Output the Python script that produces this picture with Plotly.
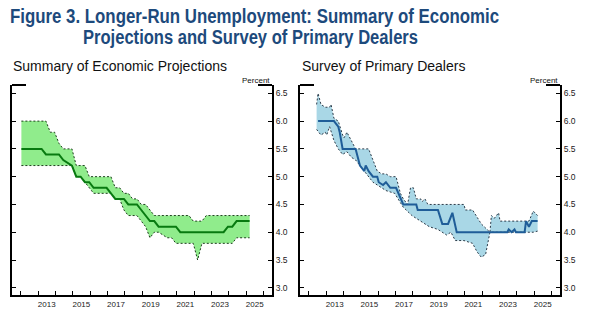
import plotly.graph_objects as go

# ---- Summary of Economic Projections: longer-run unemployment (quarterly SEP rounds)
sep_dates = [
    "2012-01", "2012-04", "2012-06", "2012-09", "2012-12",
    "2013-03", "2013-06", "2013-09", "2013-12",
    "2014-03", "2014-06", "2014-09", "2014-12",
    "2015-03", "2015-06", "2015-09", "2015-12",
    "2016-03", "2016-06", "2016-09", "2016-12",
    "2017-03", "2017-06", "2017-09", "2017-12",
    "2018-03", "2018-06", "2018-09", "2018-12",
    "2019-03", "2019-06", "2019-09", "2019-12",
    "2020-06", "2020-09", "2020-12",
    "2021-03", "2021-06", "2021-09", "2021-12",
    "2022-03", "2022-06", "2022-09", "2022-12",
    "2023-03", "2023-06", "2023-09", "2023-12",
    "2024-03", "2024-06", "2024-09", "2024-12",
    "2025-03",
]
sep_median = [
    5.5, 5.5, 5.5, 5.5, 5.5,
    5.5, 5.4, 5.4, 5.4,
    5.4, 5.3, 5.25, 5.2,
    5.0, 5.0, 4.9, 4.9,
    4.8, 4.8, 4.8, 4.8,
    4.7, 4.6, 4.6, 4.6,
    4.5, 4.5, 4.5, 4.4,
    4.3, 4.2, 4.2, 4.1,
    4.1, 4.1, 4.1,
    4.0, 4.0, 4.0, 4.0,
    4.0, 4.0, 4.0, 4.0,
    4.0, 4.0, 4.0, 4.1,
    4.1, 4.2, 4.2, 4.2,
    4.2,
]
sep_upper = [
    6.0, 6.0, 6.0, 6.0, 6.0,
    6.0, 6.0, 5.8, 5.8,
    5.6, 5.5, 5.5, 5.5,
    5.2, 5.2, 5.2, 5.0,
    5.0, 5.0, 5.0, 5.0,
    5.0, 4.8, 4.8, 4.7,
    4.7, 4.6, 4.6, 4.5,
    4.5, 4.4, 4.3, 4.3,
    4.3, 4.3, 4.3,
    4.3, 4.3, 4.3, 4.2,
    4.2, 4.2, 4.3, 4.3,
    4.3, 4.3, 4.3, 4.3,
    4.3, 4.3, 4.3, 4.3,
    4.3,
]
sep_lower = [
    5.2, 5.2, 5.2, 5.2, 5.2,
    5.2, 5.2, 5.2, 5.2,
    5.2, 5.2, 5.2, 5.2,
    5.0, 5.0, 4.9, 4.8,
    4.7, 4.7, 4.7, 4.7,
    4.7, 4.6, 4.6, 4.4,
    4.3, 4.3, 4.3, 4.2,
    4.1, 3.9, 4.0, 4.0,
    3.9, 3.9, 3.8,
    3.8, 3.8, 3.8, 3.8,
    3.5, 3.8, 3.8, 3.8,
    3.8, 3.8, 3.8, 3.8,
    3.8, 3.9, 3.9, 3.9,
    3.9,
]

# ---- Survey of Primary Dealers: median and range of responses
spd_median_dates = [
    "2012-07", "2013-06", "2013-09", "2013-10", "2013-12", "2014-09", "2014-11",
    "2014-12", "2015-03", "2015-04", "2015-06", "2015-09", "2015-12", "2016-01",
    "2016-04", "2016-06", "2016-09", "2017-01", "2017-06", "2018-03", "2018-04",
    "2019-06", "2019-09", "2020-01", "2020-04", "2020-07", "2023-06", "2023-07",
    "2023-09", "2023-11", "2023-12", "2024-06", "2024-07", "2024-09", "2024-11",
    "2025-03",
]
spd_median = [
    6.0, 6.0, 5.9, 5.8, 5.5, 5.5, 5.3,
    5.2, 5.1, 5.2, 5.1, 5.0, 5.0, 4.9,
    4.85, 4.9, 4.8, 4.8, 4.5, 4.5, 4.4,
    4.4, 4.15, 4.15, 4.35, 4.0, 4.0, 4.05,
    4.0, 4.05, 4.0, 4.0, 4.2, 4.1, 4.2,
    4.2,
]
spd_upper_dates = [
    "2012-06", "2012-07", "2012-09", "2012-12", "2013-03", "2013-04", "2013-06",
    "2013-09", "2013-12", "2014-01", "2014-03", "2014-06", "2014-09", "2015-06",
    "2015-09", "2015-12", "2016-03", "2016-06", "2016-09", "2017-01", "2017-04",
    "2017-06", "2017-09", "2017-11", "2018-01", "2018-03", "2018-06", "2018-07",
    "2018-09", "2018-11", "2020-12", "2021-01", "2021-06", "2021-12", "2022-06",
    "2022-07", "2022-09", "2022-12", "2023-01", "2024-09", "2024-12", "2025-03",
]
spd_upper = [
    6.3, 6.5, 6.3, 6.25, 6.25, 6.3, 6.05,
    6.0, 5.75, 5.7, 5.8, 5.65, 5.5, 5.5,
    5.3, 5.1, 5.05, 5.05, 5.0, 5.0, 4.7,
    4.6, 4.5, 4.8, 4.8, 4.6, 4.6, 4.55,
    4.6, 4.5, 4.5, 4.4, 4.4, 4.15, 4.0,
    4.3, 4.25, 4.35, 4.2, 4.2, 4.38, 4.3,
]
spd_lower_dates = [
    "2012-06", "2012-09", "2012-12", "2013-01", "2013-03", "2013-06", "2013-09",
    "2013-12", "2014-03", "2014-06", "2014-09", "2014-12", "2015-03", "2015-06",
    "2015-09", "2015-12", "2016-06", "2016-12", "2017-06", "2017-12", "2018-06",
    "2018-12", "2019-06", "2019-12", "2020-03", "2020-06", "2020-12", "2021-06",
    "2021-09", "2021-12", "2022-03", "2022-06", "2024-12", "2025-03",
]
spd_lower = [
    5.85, 5.75, 5.8, 5.75, 5.9, 5.65, 5.5,
    5.4, 5.45, 5.35, 5.3, 5.2, 5.1, 5.0,
    4.9, 4.85, 4.75, 4.7, 4.45, 4.3, 4.2,
    4.1, 4.05, 3.95, 4.0, 3.85, 3.85, 3.8,
    3.65, 3.55, 3.6, 4.0, 4.0, 4.02,
]

year_ticks = list(range(2012, 2027))
label_years = [2013, 2015, 2017, 2019, 2021, 2023, 2025]
y_ticks = [3.0, 3.5, 4.0, 4.5, 5.0, 5.5, 6.0, 6.5]

TITLE_BLUE = "#1d4a7c"
BODY_FONT = "Liberation Sans, Arial, sans-serif"
TITLE_FONT = "Liberation Sans, Arial, sans-serif"


def to_year(d):
    y, m = d.split("-")
    return int(y) + (int(m) - 0.5) / 12.0


def add_band_panel(fig, xs_up, up, xs_lo, lo, xs_med, med, fill, median_color,
                   edge_color, xa, ya):
    xu = [to_year(d) for d in xs_up]
    xl = [to_year(d) for d in xs_lo]
    xm = [to_year(d) for d in xs_med]
    fig.add_trace(go.Scatter(
        x=xu + xl[::-1], y=up + lo[::-1], fill="toself", fillcolor=fill,
        mode="lines", line=dict(width=0), hoverinfo="skip",
        showlegend=False, xaxis=xa, yaxis=ya))
    for xx, yy in ((xu, up), (xl, lo)):
        fig.add_trace(go.Scatter(
            x=xx, y=yy, mode="lines",
            line=dict(color=edge_color, width=1, dash="2px,2px"),
            showlegend=False, xaxis=xa, yaxis=ya))
    fig.add_trace(go.Scatter(
        x=xm, y=med, mode="lines",
        line=dict(color=median_color, width=2),
        showlegend=False, xaxis=xa, yaxis=ya))


fig = go.Figure()
add_band_panel(fig, sep_dates, sep_upper, sep_dates, sep_lower, sep_dates,
               sep_median, "#90ec8c", "#087a10", "#1d3d1d", "x", "y")
add_band_panel(fig, spd_upper_dates, spd_upper, spd_lower_dates, spd_lower,
               spd_median_dates, spd_median, "#a9d7e6", "#1f5d98", "#2c3a48",
               "x2", "y2")

W, H = 594, 322
left_dom = [12 / W, 272 / W]
right_dom = [300 / W, 560 / W]
y_dom = [(H - 295) / H, (H - 85) / H]

xaxis_common = dict(
    range=[2011.5, 2026.5],
    tickmode="array",
    tickvals=[y + 0.5 for y in label_years],
    ticktext=[str(y) for y in label_years],
    ticks="",
    showline=True, linecolor="black", linewidth=2,
    showgrid=False, zeroline=False,
    tickfont=dict(family=BODY_FONT, size=8, color="#222"),
    minor=dict(tickmode="array", tickvals=year_ticks, ticks="inside",
               ticklen=4, tickwidth=1, tickcolor="black", showgrid=False),
    fixedrange=True,
)
yaxis_common = dict(
    range=[2.87, 6.65],
    tickmode="array",
    tickvals=y_ticks,
    tickformat=".1f",
    side="right",
    ticks="inside", ticklen=4, tickwidth=1, tickcolor="black",
    showline=True, linecolor="black", linewidth=2, mirror="ticks",
    showgrid=False, zeroline=False,
    tickfont=dict(family=BODY_FONT, size=8.5, color="#222"),
    fixedrange=True,
)

fig.update_layout(
    width=W, height=H,
    margin=dict(l=0, r=0, t=0, b=0),
    paper_bgcolor="white", plot_bgcolor="white",
    xaxis=dict(domain=left_dom, anchor="y", **xaxis_common),
    yaxis=dict(domain=y_dom, anchor="x", **yaxis_common),
    xaxis2=dict(domain=right_dom, anchor="y2", **xaxis_common),
    yaxis2=dict(domain=y_dom, anchor="x2", **yaxis_common),
)

# short caps at the top of each panel's vertical axes
for xr, yr in (("x domain", "y domain"), ("x2 domain", "y2 domain")):
    for x0, x1 in ((0, 14 / 260), (1 - 14 / 260, 1)):
        fig.add_shape(type="line", xref=xr, yref=yr, x0=x0, x1=x1, y0=1, y1=1,
                      line=dict(color="black", width=2))

# two title lines first (indices 0 and 1), set in a condensed width below
annotations = [
    dict(text="<b>Figure 3. Longer-Run Unemployment: Summary of Economic</b>",
         x=8 / W, y=1 - 16 / H, xanchor="left", yanchor="middle", align="left",
         font=dict(family=TITLE_FONT, size=20, color=TITLE_BLUE)),
    dict(text="<b>Projections and Survey of Primary Dealers</b>",
         x=81 / W, y=1 - 37 / H, xanchor="left", yanchor="middle", align="left",
         font=dict(family=TITLE_FONT, size=20, color=TITLE_BLUE)),
    dict(text="Summary of Economic Projections",
         x=11 / W, y=1 - 66 / H, xanchor="left", yanchor="middle",
         font=dict(family=BODY_FONT, size=14, color="#111")),
    dict(text="Survey of Primary Dealers",
         x=300 / W, y=1 - 66 / H, xanchor="left", yanchor="middle",
         font=dict(family=BODY_FONT, size=14, color="#111")),
    dict(text="Percent", x=272 / W, y=1 - 80 / H, xanchor="right",
         yanchor="middle", font=dict(family=BODY_FONT, size=8, color="#111")),
    dict(text="Percent", x=560 / W, y=1 - 80 / H, xanchor="right",
         yanchor="middle", font=dict(family=BODY_FONT, size=8, color="#111")),
]
for a in annotations:
    fig.add_annotation(xref="paper", yref="paper", showarrow=False, **a)

# Condense the bold title lines to their set widths (no narrow face installed)
condense_js = """
var gd = document.getElementById('{plot_id}');
var widths = {"0": 489, "1": 335};
function condenseTitle() {
  Object.keys(widths).forEach(function (idx) {
    var g = gd.querySelector('g.annotation[data-index="' + idx + '"]');
    if (!g) return;
    var t = g.querySelector('text.annotation-text');
    if (!t) return;
    t.setAttribute('textLength', widths[idx]);
    t.setAttribute('lengthAdjust', 'spacingAndGlyphs');
  });
}
condenseTitle();
gd.on('plotly_afterplot', condenseTitle);
"""

fig.write_html("out.html", post_script=condense_js)
